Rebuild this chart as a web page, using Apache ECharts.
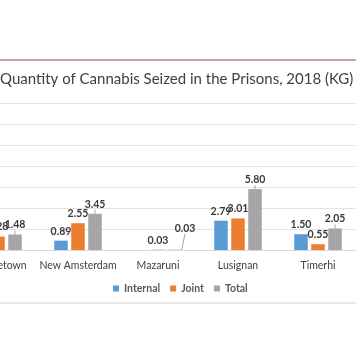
<!DOCTYPE html>
<html><head><meta charset="utf-8">
<style>html,body{margin:0;padding:0;background:#fff;overflow:hidden;width:356px;height:364px;position:relative;}#c{position:absolute;left:-42px;top:0;width:400px;height:364px;}</style>
<script src="https://cdn.jsdelivr.net/npm/echarts@6/dist/echarts.min.js"></script>
</head><body><div id="c"></div>
<script>
const categories = ['Georgetown', 'New Amsterdam', 'Mazaruni', 'Lusignan', 'Timerhi'];
const internal = [0.20, 0.89, null, 2.79, 1.50];
const joint = [1.28, 2.55, 0.03, 3.01, 0.55];
const total = [1.48, 3.45, 0.03, 5.80, 2.05];
const yTicks = { min: 0, max: 14, interval: 2 };

const OX = 42; // page offset of the chart canvas
const chart = echarts.init(document.getElementById('c'), null, { renderer: 'canvas' });
const lbl = { show: true, position: 'top', distance: 4, fontFamily: 'Lato', fontWeight: 'bold', fontSize: 10.5, color: '#3a3a3a', formatter: p => p.value == null ? '' : p.value.toFixed(2) };
function mk(name, data, color, extra) {
  return Object.assign({ name, type: 'bar', data, barWidth: 13.5, barGap: '26%', itemStyle: { color }, label: lbl }, extra || {});
}
chart.setOption({
  animation: false,
  title: { text: 'Quantity of Cannabis Seized in the Prisons, 2018 (KG)', left: OX - 5, top: 67,
    textStyle: { fontFamily: 'Lato', fontSize: 15, fontWeight: 'normal', color: '#404040' } },
  graphic: [
    { type: 'line', shape: { x1: OX, y1: 60, x2: OX + 356, y2: 60 }, style: { stroke: '#8e4a4a', lineWidth: 1.2 } },
    { type: 'line', shape: { x1: OX, y1: 303, x2: OX + 356, y2: 303 }, style: { stroke: '#cfcfcf', lineWidth: 1.2 } }
  ],
  legend: { top: 278, left: OX + 108, itemWidth: 6, itemHeight: 6, itemGap: 10, icon: 'rect',
    textStyle: { fontFamily: 'Lato', fontSize: 10.5, color: '#595959', fontWeight: 'bold' },
    data: ['Internal', 'Joint', 'Total'] },
  grid: { left: 0, right: 0, top: 103, height: 147, containLabel: false },
  xAxis: { type: 'category', data: categories,
    axisLine: { lineStyle: { color: '#d9d9d9' } }, axisTick: { show: false },
    axisLabel: { interval: 0, fontFamily: 'Lato', fontSize: 10.5, color: '#404040', margin: 10 } },
  yAxis: { type: 'value', min: yTicks.min, max: yTicks.max, interval: yTicks.interval,
    axisLabel: { show: false }, axisLine: { show: false }, axisTick: { show: false },
    splitLine: { lineStyle: { color: '#e3e3e3' } } },
  series: [
    mk('Internal', internal, '#5b9bd5'),
    mk('Joint', joint, '#ed7d31'),
    mk('Total', total, '#a5a5a5', {
      labelLine: { show: true, lineStyle: { color: '#a5a5a5', width: 1 } },
      labelLayout: p => p.dataIndex === 2 ? { dx: 10, dy: -12 } : {}
    })
  ]
});
</script></body></html>
